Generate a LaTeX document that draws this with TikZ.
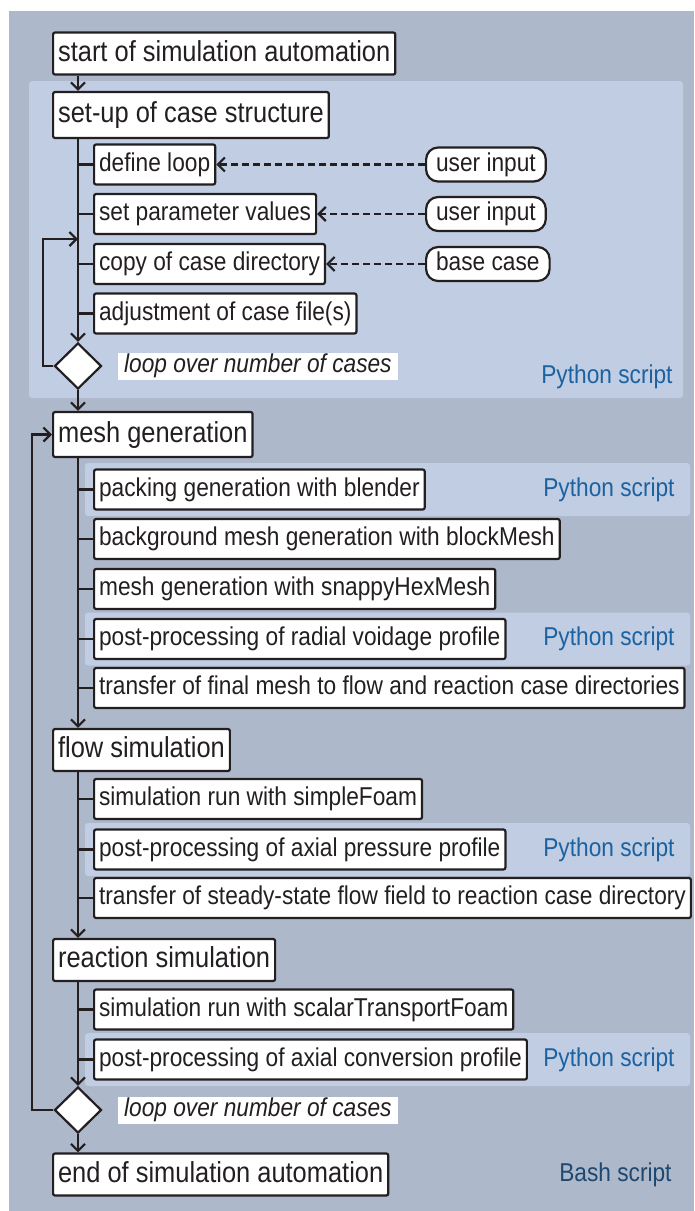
\documentclass[tikz,border=0pt]{standalone}
\usepackage{fontspec}
\setmainfont{Liberation Sans}[FakeStretch=0.88]
\usetikzlibrary{shapes.geometric,arrows.meta}
\definecolor{outerbg}{RGB}{174,184,203}
\definecolor{panelbg}{RGB}{192,205,227}
\definecolor{pyblue}{RGB}{28,98,160}
\definecolor{shblue}{RGB}{30,72,112}
\definecolor{linecol}{RGB}{35,31,32}

\begin{document}
\begin{tikzpicture}[x=1pt, y=-1pt, line width=2.2pt, color=linecol,
  main/.style={draw, fill=white, rounded corners=2pt, anchor=west, inner xsep=5pt, inner ysep=0pt,
    minimum height=42pt, text height=21pt, text depth=6pt, font=\fontsize{28.9}{32}\selectfont},
  sub/.style={main, minimum height=40pt, text height=18.5pt, text depth=5.5pt, font=\fontsize{25.8}{29}\selectfont},
  src/.style={sub, rounded corners=12pt, minimum height=34pt, inner xsep=10pt},
  dec/.style={diamond, draw, fill=white, minimum width=47pt, minimum height=46pt, inner sep=0pt},
  looptxt/.style={fill=white, anchor=west, inner xsep=6pt, inner ysep=1.5pt, text height=18.5pt, text depth=5.5pt,
    font=\fontsize{25.8}{29}\selectfont\itshape},
  script/.style={anchor=east, text=pyblue, font=\fontsize{25.8}{29}\selectfont},
  arr/.style={-{Straight Barb[length=7pt,width=14pt]}},
  dasharr/.style={arr, dash pattern=on 7pt off 4pt}]
  \useasboundingbox (0,0) rectangle (694,1211);
  % backgrounds: bash frame and python parts
  \fill[outerbg] (9,11) rectangle (694,1211);
  \fill[panelbg, rounded corners=3pt] (29,81) rectangle (683,398);
  \foreach \y in {489.5,639,849.5,1059.5} \fill[panelbg, rounded corners=3pt] (85,\y-26.5) rectangle (690,\y+26.5);

  % case set-up
  \node[main] (start) at (52,53.5) {start of simulation automation};
  \node[main, minimum height=46pt] (setup) at (52,115) {set-up of case structure};
  \node[sub] (loopdef) at (93,164.5) {define loop};
  \node[sub] (param) at (93,214) {set parameter values};
  \node[sub] (copy) at (93,264) {copy of case directory};
  \node[sub] (adjust) at (93,313.5) {adjustment of case file(s)};
  \node[src] (in1) at (425,164.5) {user input};
  \node[src] (in2) at (425,214) {user input};
  \node[src] (base) at (425,264) {base case};
  \node[dec] (d1) at (78,366) {};
  \node[looptxt] (lt1) at (117,366) {loop over number of cases};
  \node[script] (py1) at (677,377) {Python script};

  % mesh, flow and reaction runs
  \node[main, minimum height=45pt] (mesh) at (52,434.5) {mesh generation};
  \node[sub] (packing) at (93,489.5) {packing generation with blender};
  \node[sub] (bgmesh) at (93,539) {background mesh generation with blockMesh};
  \node[sub] (snappy) at (93,589) {mesh generation with snappyHexMesh};
  \node[sub] (voidage) at (93,639) {post-processing of radial voidage profile};
  \node[sub] (meshcopy) at (93,688) {transfer of final mesh to flow and reaction case directories};
  \node[main] (flow) at (52,750) {flow simulation};
  \node[sub] (simple) at (93,799) {simulation run with simpleFoam};
  \node[sub] (pressure) at (93,849.5) {post-processing of axial pressure profile};
  \node[sub] (fieldcopy) at (93,898) {transfer of steady-state flow field to reaction case directory};
  \node[main] (reaction) at (52,960) {reaction simulation};
  \node[sub] (scalar) at (93,1009.5) {simulation run with scalarTransportFoam};
  \node[sub] (conversion) at (93,1059.5) {post-processing of axial conversion profile};
  \node[dec] (d2) at (78,1110) {};
  \node[looptxt] (lt2) at (117,1110) {loop over number of cases};
  \node[main] (finish) at (52,1174.5) {end of simulation automation};
  \foreach \y/\n in {489.5/py2,639/py3,849.5/py4,1059.5/py5} \node[script] (\n) at (679,\y) {Python script};
  \node[script, text=shblue] (sh) at (676,1175) {Bash script};

  % trunk, branches and loops
  \draw[arr] (start.south -| d1) -- (setup.north -| d1);
  \draw[arr] (setup.south -| d1) -- (d1.north);
  \foreach \n in {loopdef,param,copy,adjust} \draw (d1 |- \n.west) -- (\n.west);
  \foreach \a/\b in {in1/loopdef,in2/param,base/copy} \draw[dasharr] (\a.west) -- (\a.west -| \b.east);
  \coordinate (back1) at (43,239);
  \draw[arr] (d1.west) -| (back1) -- (back1 -| d1);
  \draw[arr] (d1.south) -- (mesh.north -| d1);
  \draw[arr] (mesh.south -| d2) -- (flow.north -| d2);
  \foreach \n in {packing,bgmesh,snappy,voidage,meshcopy} \draw (d2 |- \n.west) -- (\n.west);
  \draw[arr] (flow.south -| d2) -- (reaction.north -| d2);
  \foreach \n in {simple,pressure,fieldcopy} \draw (d2 |- \n.west) -- (\n.west);
  \draw[arr] (reaction.south -| d2) -- (d2.north);
  \foreach \n in {scalar,conversion} \draw (d2 |- \n.west) -- (\n.west);
  \draw[arr] (d2.south) -- (finish.north -| d2);
  \coordinate (back2) at (32,434.5);
  \draw[arr] (d2.west) -| (back2) -- (mesh.west);
\end{tikzpicture}
\end{document}
